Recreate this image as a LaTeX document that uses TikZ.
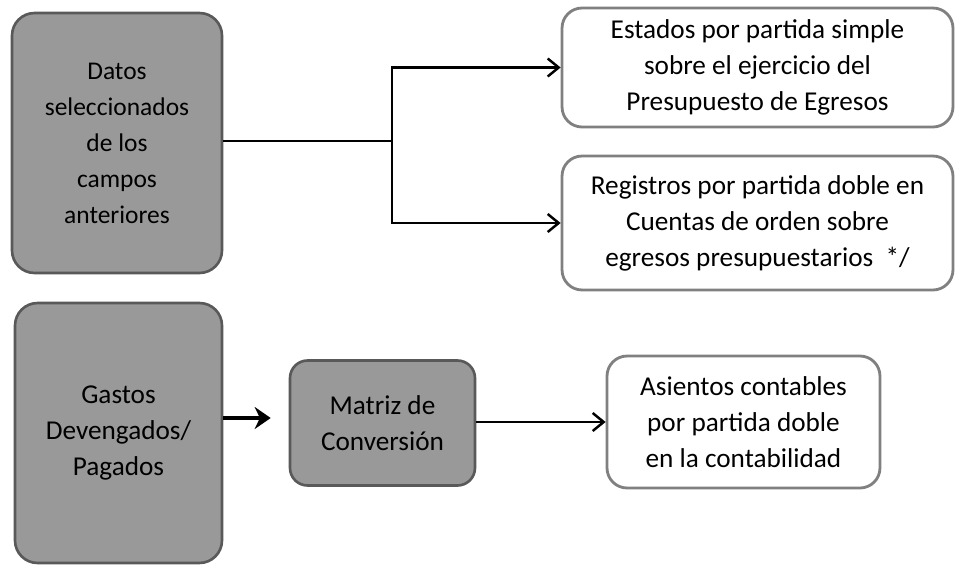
\documentclass[tikz,border=0pt]{standalone}
\usepackage{fontspec}
\setmainfont{Carlito}
\usetikzlibrary{arrows.meta}
\begin{document}
\begin{tikzpicture}[x=0.02cm, y=-0.02cm, font=\fontsize{15.5}{20.5}\selectfont,
	graybox/.style={draw=black!65, fill=black!40, line width=1.5pt, rounded corners=0.45cm, align=center, inner sep=2pt},
	whitebox/.style={draw=black!50, fill=white, line width=1.6pt, rounded corners=0.4cm, align=center, inner sep=2pt},
	conn/.style={line width=1.4pt},
	tip/.style={conn, -{Straight Barb[length=2.2mm, width=3.6mm, line width=1.4pt]}},
	bigtip/.style={line width=2.8pt, -{Stealth[length=3.2mm, width=4.4mm]}}]
		\useasboundingbox (0,0) rectangle (961,572);
		\node [graybox, minimum width=4.2cm, minimum height=5.2cm, font=\fontsize{14.5}{20.5}\selectfont] (datos) at (117,143) {Datos\\seleccionados\\de los\\campos\\anteriores};
		\node [whitebox, minimum width=7.82cm, minimum height=2.38cm] (estados) at (757.5,67.5) {Estados por partida simple\\sobre el ejercicio del\\Presupuesto de Egresos};
		\node [whitebox, minimum width=7.82cm, minimum height=2.68cm] (registros) at (757.5,223) {Registros por partida doble en\\Cuentas de orden sobre\\egresos presupuestarios \ */};
		\node [graybox, minimum width=4.14cm, minimum height=5.2cm] (gastos) at (118.5,433) {Gastos\\Devengados/\\Pagados};
		\node [graybox, minimum width=3.7cm, minimum height=2.5cm, rounded corners=0.35cm] (matriz) at (382.5,423) {Matriz de\\Conversión};
		\node [whitebox, minimum width=5.46cm, minimum height=2.64cm] (asientos) at (743.5,422) {Asientos contables\\por partida doble\\en la contabilidad};
		\coordinate (split) at (392,141);
		\draw [conn] (datos.east |- split) -- (split);
		\draw [tip] (split) |- (estados);
		\draw [tip] (split) |- (registros);
		\draw [bigtip, shorten >=0.36cm] (gastos.east |- 0,418) -- (matriz.west |- 0,418);
		\draw [tip] (matriz.east |- asientos) -- (asientos);
\end{tikzpicture}
\end{document}
